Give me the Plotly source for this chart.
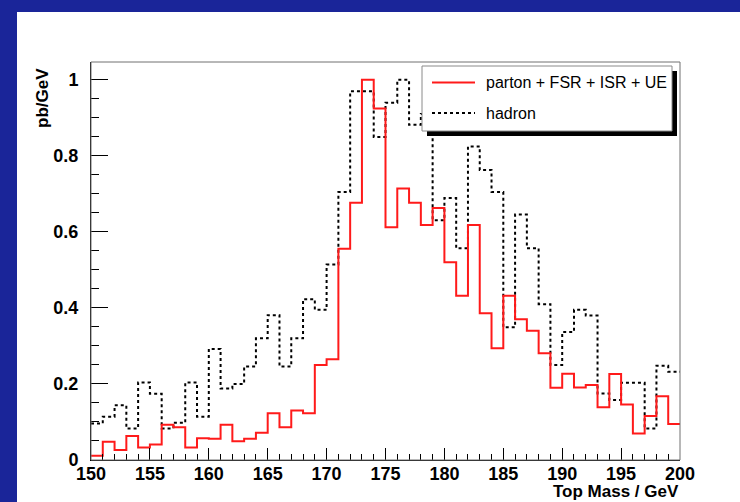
import numpy as np
import plotly.graph_objects as go

# Top-mass spectrum, 1 GeV bins from 150 to 200 GeV (normalised to peak = 1)
bin_low, bin_high = 150, 200
edges = np.arange(bin_low, bin_high + 1)

parton_fsr_isr_ue = [
    0.011, 0.048, 0.026, 0.063, 0.033, 0.041, 0.093, 0.086, 0.033, 0.057,
    0.056, 0.093, 0.049, 0.056, 0.072, 0.123, 0.086, 0.130, 0.123, 0.250,
    0.265, 0.556, 0.677, 1.000, 0.925, 0.612, 0.714, 0.677, 0.618, 0.663,
    0.520, 0.432, 0.618, 0.386, 0.294, 0.432, 0.370, 0.340, 0.281, 0.190,
    0.227, 0.191, 0.197, 0.139, 0.226, 0.146, 0.070, 0.116, 0.168, 0.095,
]
hadron = [
    0.096, 0.114, 0.144, 0.083, 0.204, 0.174, 0.083, 0.098, 0.204, 0.114,
    0.292, 0.188, 0.200, 0.246, 0.320, 0.381, 0.246, 0.320, 0.423, 0.395,
    0.514, 0.705, 0.970, 0.970, 0.850, 0.940, 1.000, 0.882, 0.910, 0.631,
    0.689, 0.557, 0.825, 0.763, 0.705, 0.349, 0.646, 0.557, 0.410, 0.250,
    0.337, 0.395, 0.380, 0.175, 0.158, 0.203, 0.203, 0.083, 0.248, 0.232,
]
series_names = ["parton + FSR + ISR + UE", "hadron"]
x_ticks = [150, 155, 160, 165, 170, 175, 180, 185, 190, 195, 200]
y_ticks = [0, 0.2, 0.4, 0.6, 0.8, 1.0]
y_tick_text = ["0", "0.2", "0.4", "0.6", "0.8", "1"]

W, H = 740, 502
L, R, T, B = 91, 680, 62, 460
FONT = "Liberation Sans, Arial, Helvetica, sans-serif"
BLUE = "#1a2599"


def fx(px):
    return (px - L) / (R - L)


def fy(py):
    return (B - py) / (B - T)


def step(vals):
    return list(vals) + [vals[-1]]


fig = go.Figure()
fig.add_trace(go.Scatter(
    x=edges, y=step(hadron), mode="lines", line_shape="hv",
    line=dict(color="black", width=2, dash="3px,3px"),
    name=series_names[1], showlegend=False,
))
fig.add_trace(go.Scatter(
    x=edges, y=step(parton_fsr_isr_ue), mode="lines", line_shape="hv",
    line=dict(color="#ff1a1a", width=2),
    name=series_names[0], showlegend=False,
))

shapes = [
    # blue page frame strips
    dict(type="rect", xref="paper", yref="paper", x0=fx(0), x1=fx(17),
         y0=fy(H), y1=fy(0), fillcolor=BLUE, line_width=0, layer="below"),
    dict(type="rect", xref="paper", yref="paper", x0=fx(0), x1=fx(W),
         y0=fy(12), y1=fy(0), fillcolor=BLUE, line_width=0, layer="below"),
    # plot frame
    dict(type="rect", xref="paper", yref="paper", x0=0, x1=1, y0=0, y1=1,
         line=dict(color="#707070", width=1), fillcolor="rgba(0,0,0,0)"),
    # legend shadow and box
    dict(type="rect", xref="paper", yref="paper", x0=fx(427), x1=fx(677),
         y0=fy(136), y1=fy(71), fillcolor="black", line_width=0),
    dict(type="rect", xref="paper", yref="paper", x0=fx(422), x1=fx(672),
         y0=fy(131), y1=fy(66), fillcolor="white",
         line=dict(color="#8a8a8a", width=1)),
    # legend line samples
    dict(type="line", xref="paper", yref="paper", x0=fx(432), x1=fx(475),
         y0=fy(82.5), y1=fy(82.5), line=dict(color="#ff1a1a", width=2)),
    dict(type="line", xref="paper", yref="paper", x0=fx(432), x1=fx(475),
         y0=fy(113), y1=fy(113), line=dict(color="black", width=2, dash="3px,3px")),
]

annotations = [
    dict(xref="paper", yref="paper", x=fx(484), y=fy(82.5), text=series_names[0],
         showarrow=False, xanchor="left", yanchor="middle",
         font=dict(family=FONT, size=16, color="black")),
    dict(xref="paper", yref="paper", x=fx(484), y=fy(113), text=series_names[1],
         showarrow=False, xanchor="left", yanchor="middle",
         font=dict(family=FONT, size=16, color="black")),
    dict(xref="paper", yref="paper", x=fx(681), y=fy(503), text="Top Mass / GeV",
         showarrow=False, xanchor="right", yanchor="bottom",
         font=dict(family=FONT, size=17, color="black", weight="bold")),
    dict(xref="paper", yref="paper", x=fx(43), y=fy(98), text="pb/GeV",
         textangle=-90, showarrow=False, xanchor="center", yanchor="middle",
         font=dict(family=FONT, size=17, color="black", weight="bold")),
]

fig.update_layout(
    width=W, height=H,
    margin=dict(l=L, r=W - R, t=T, b=H - B, pad=0),
    paper_bgcolor="white", plot_bgcolor="white",
    shapes=shapes, annotations=annotations, showlegend=False,
)
fig.update_xaxes(
    range=[bin_low, bin_high], tickvals=x_ticks,
    ticks="inside", ticklen=12, tickwidth=1, tickcolor="black",
    minor=dict(dtick=1, ticks="inside", ticklen=6, tickcolor="black", tickwidth=1),
    showline=True, linecolor="black", linewidth=1, showgrid=False, zeroline=False,
    tickfont=dict(family=FONT, size=18, color="black", weight="bold"),
    ticklabelstandoff=-3,
)
fig.update_yaxes(
    range=[0, 1.047], tickvals=y_ticks, ticktext=y_tick_text,
    ticks="inside", ticklen=17, tickwidth=1, tickcolor="black",
    minor=dict(dtick=0.05, ticks="inside", ticklen=8, tickcolor="black", tickwidth=1),
    showline=True, linecolor="black", linewidth=1, showgrid=False, zeroline=False,
    tickfont=dict(family=FONT, size=18, color="black", weight="bold"),
    ticklabelstandoff=8,
)

fig.write_html("out.html")
